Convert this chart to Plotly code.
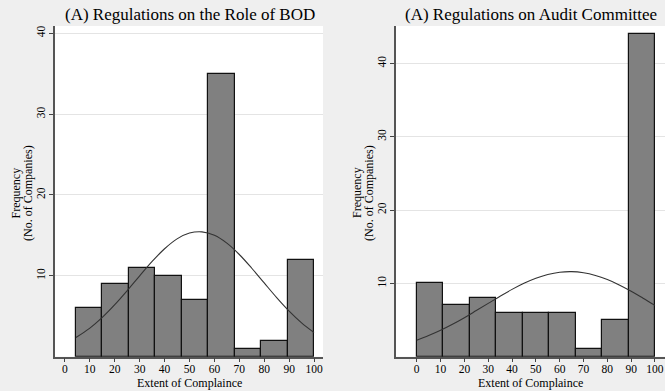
import plotly.graph_objects as go

# ---------------- data ----------------
bod_edges = [4.4, 15.0, 25.6, 36.2, 46.9, 57.5, 68.1, 78.8, 89.4, 100.0]
bod_counts = [6, 9, 11, 10, 7, 35, 1, 2, 12]
bod_curve_x = [4.4, 10, 15, 20, 25, 30, 35, 40, 45, 50, 55, 60, 65, 70, 75, 80, 85, 90, 95, 100]
bod_curve_y = [2.37, 3.54, 4.86, 6.43, 8.17, 10.0, 11.78, 13.35, 14.57, 15.29, 15.44,
               15.01, 14.04, 12.64, 10.94, 9.12, 7.31, 5.64, 4.19, 2.99]

ac_edges = [0.0, 11.1, 22.2, 33.3, 44.4, 55.6, 66.7, 77.8, 88.9, 100.0]
ac_counts = [10, 7, 8, 6, 6, 6, 1, 5, 44]
ac_curve_x = [0, 5, 10, 15, 20, 25, 30, 35, 40, 45, 50, 55, 60, 65, 70, 75, 80, 85, 90, 95, 100]
ac_curve_y = [2.25, 2.88, 3.60, 4.42, 5.32, 6.29, 7.27, 8.25, 9.18, 10.01, 10.70, 11.21,
              11.52, 11.60, 11.45, 11.08, 10.52, 9.79, 8.93, 7.98, 7.0]

titles = ["(A) Regulations on the Role of BOD", "(A) Regulations on Audit Committee"]
x_title = "Extent of Complaince"
y_title_lines = ["Frequency", "(No. of Companies)"]
x_ticks = [0, 10, 20, 30, 40, 50, 60, 70, 80, 90, 100]
y_ticks = [10, 20, 30, 40]

# ---------------- style ----------------
W, H = 665, 391
BG = "#efefef"
BAR = "#808080"
FONT = "Liberation Serif"


def px_x(p):
    return p / W


def px_y(p):
    return 1 - p / H


fig = go.Figure()


def add_hist(edges, counts, cx, cy, xa, ya):
    centers = [(a + b) / 2 for a, b in zip(edges[:-1], edges[1:])]
    widths = [b - a for a, b in zip(edges[:-1], edges[1:])]
    fig.add_trace(go.Bar(x=centers, y=counts, width=widths,
                         marker=dict(color=BAR, line=dict(color="#111111", width=1.2)),
                         xaxis=xa, yaxis=ya, showlegend=False, hoverinfo="skip"))
    fig.add_trace(go.Scatter(x=cx, y=cy, mode="lines", line=dict(color="#333333", width=1.1, shape="spline"),
                             xaxis=xa, yaxis=ya, showlegend=False, hoverinfo="skip"))


add_hist(bod_edges, bod_counts, bod_curve_x, bod_curve_y, "x", "y")
add_hist(ac_edges, ac_counts, ac_curve_x, ac_curve_y, "x2", "y2")

ydom = [px_y(356.7), px_y(26)]

xcommon = dict(tickmode="array", tickvals=x_ticks, ticks="outside", ticklen=4, tickwidth=1,
               tickcolor="#444444", showline=True, linecolor="#555555", linewidth=1.5,
               showgrid=False, zeroline=False, tickfont=dict(family=FONT, size=11.5, color="black"),
               ticklabelstandoff=-3, automargin=False)
ycommon = dict(tickmode="array", tickvals=y_ticks, ticks="outside", ticklen=4, tickwidth=1,
               tickcolor="#444444", showline=True, linecolor="#555555", linewidth=1.5,
               showgrid=True, gridcolor="#e4e4e4", gridwidth=1, zeroline=False, tickangle=-90,
               tickfont=dict(family=FONT, size=11.5, color="black"), automargin=False)

fig.update_layout(
    width=W, height=H,
    margin=dict(l=0, r=0, t=0, b=0),
    paper_bgcolor=BG, plot_bgcolor="white",
    bargap=0,
    xaxis=dict(domain=[px_x(55), px_x(323)], range=[-4.0, 103.6], anchor="y", **xcommon),
    yaxis=dict(domain=ydom, range=[0, 40.9], anchor="x", **ycommon),
    xaxis2=dict(domain=[px_x(396), 1.0], range=[-8.7, 104.2], anchor="y2", **xcommon),
    yaxis2=dict(domain=ydom, range=[0, 45.1], anchor="x2", **ycommon),
)

ann = []
# panel titles
for t, cxp in zip(titles, [190, 530.5]):
    ann.append(dict(text=t, x=px_x(cxp), y=px_y(15), xref="paper", yref="paper",
                    showarrow=False, xanchor="center", yanchor="middle",
                    font=dict(family=FONT, size=17, color="black")))
# x titles
for cxp in [189, 530.5]:
    ann.append(dict(text=x_title, x=px_x(cxp), y=px_y(383), xref="paper", yref="paper",
                    showarrow=False, xanchor="center", yanchor="middle",
                    font=dict(family=FONT, size=12, color="black")))
# y titles (two rotated lines each)
for xs in [(15.5, 28), (357, 369)]:
    for line, xp in zip(y_title_lines, xs):
        ann.append(dict(text=line, x=px_x(xp), y=px_y(193), xref="paper", yref="paper",
                        showarrow=False, xanchor="center", yanchor="middle", textangle=-90,
                        font=dict(family=FONT, size=12, color="black")))
fig.update_layout(annotations=ann)

fig.write_html("out.html")
